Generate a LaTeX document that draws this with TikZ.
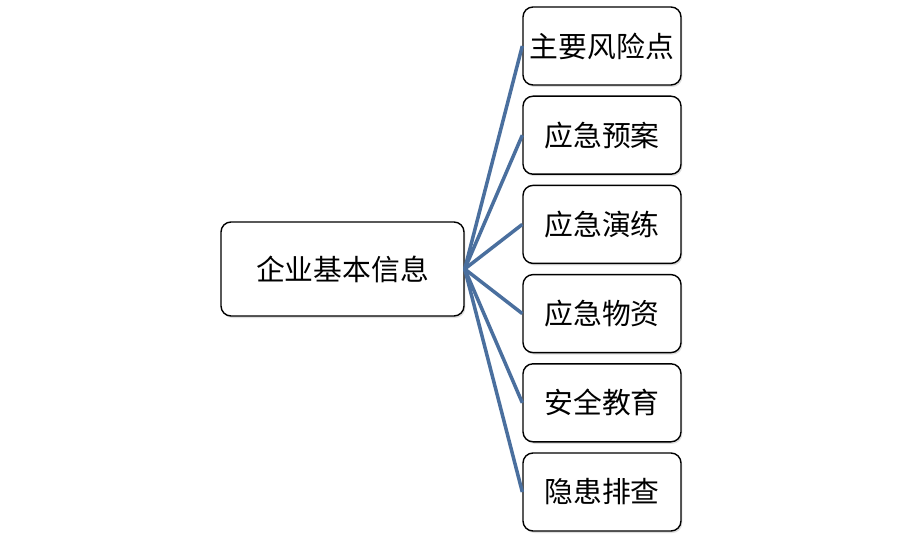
\documentclass[tikz,border=0pt]{standalone}
\usepackage{fontspec}
\newfontfamily\cjk{Noto Sans CJK SC}
\usetikzlibrary{shadows}
\tikzset{
  infobox/.style={draw=black, line width=1.2pt, rounded corners=0.3cm, fill=white,
    drop shadow={shadow xshift=0.04cm, shadow yshift=-0.06cm, opacity=0.25},
    font=\cjk\fontsize{24.6}{28}\selectfont, inner sep=0pt},
  link/.style={draw={rgb,255:red,74;green,111;blue,158}, line width=3pt}
}
\begin{document}
\begin{tikzpicture}[x=0.03cm, y=-0.03cm]
    \useasboundingbox (0,0) rectangle (904,545);

    % main box
    \node[infobox, minimum width=7.29cm, minimum height=2.82cm] (main) at (342.5,269) {企业基本信息};

    % item boxes
    \node[infobox, minimum width=4.74cm, minimum height=2.34cm] (risk) at (602,46) {主要风险点};
    \node[infobox, minimum width=4.74cm, minimum height=2.34cm] (plan) at (602,135.2) {应急预案};
    \node[infobox, minimum width=4.74cm, minimum height=2.34cm] (drill) at (602,224.4) {应急演练};
    \node[infobox, minimum width=4.74cm, minimum height=2.34cm] (supply) at (602,313.6) {应急物资};
    \node[infobox, minimum width=4.74cm, minimum height=2.34cm] (edu) at (602,402.8) {安全教育};
    \node[infobox, minimum width=4.74cm, minimum height=2.34cm] (check) at (602,492) {隐患排查};

    % links
    \foreach \t in {risk,plan,drill,supply,edu,check}
        \draw[link] (main.east) -- (\t.west);
\end{tikzpicture}
\end{document}
